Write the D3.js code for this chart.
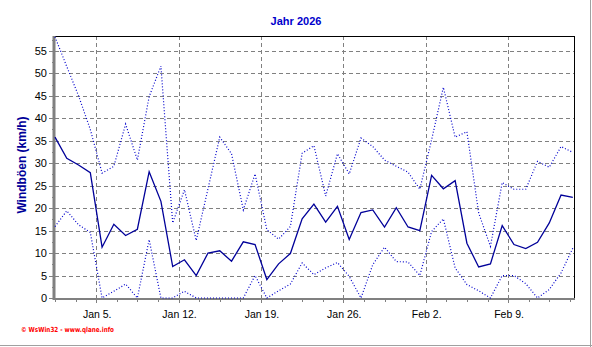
<!DOCTYPE html>
<html><head><meta charset="utf-8">
<script src="https://cdn.jsdelivr.net/npm/d3@7"></script>
<style>html,body{margin:0;padding:0;background:#fff;}svg{display:block;}</style>
</head><body>
<script>
const title = "Jahr 2026";
const yLabel = "Windböen (km/h)";
const footer = "© WsWin32 - www.qlane.info";
const startDay = "2026-01-01T12:00:00";
// daily values (km/h), Jan 1 .. Feb 14
const maxGust = [58.1,51.5,45.0,37.5,27.8,29.3,38.7,30.7,44.8,51.6,16.7,24.1,12.8,24.3,35.8,32.1,
  19.6,27.6,15.2,13.1,15.9,32.2,33.9,22.7,32.1,27.6,35.6,33.7,30.7,29.3,28.0,
  24.2,35.2,46.9,35.8,37.0,18.9,11.5,25.7,24.2,24.2,30.4,29.1,33.7,32.4];
const meanGust = [35.8,31.1,29.6,27.9,11.3,16.4,13.9,15.3,28.1,21.5,7.0,8.5,5.0,10.0,10.5,8.2,
  12.5,11.9,4.1,7.6,9.9,17.6,20.9,16.9,20.4,13.0,19.0,19.6,15.8,20.1,15.8,
  15.0,27.3,24.3,26.1,12.2,6.9,7.6,16.1,11.9,11.0,12.4,16.7,22.9,22.4];
const minGust = [15.9,19.4,16.3,14.6,0,1.5,3.1,0,13.0,0,0,1.5,0,0,0,0,
  0,5.0,0,1.6,3.1,7.8,5.2,6.7,7.9,4.8,0,7.4,11.3,8.1,8.0,
  5.0,14.8,17.6,6.7,3.0,1.6,0,5.0,5.0,3.2,0,1.9,5.6,11.1];
const yTicks = [0,5,10,15,20,25,30,35,40,45,50,55];

const W = 592, H = 347;
const L = 55, R = 574, T = 36, B = 298;
const svg = d3.select("body").append("svg").attr("width", W).attr("height", H);
svg.append("rect").attr("width", W).attr("height", H).attr("fill", "#fff");

const day0 = new Date(startDay);
const dayMs = 86400000;
const dates = maxGust.map((_, i) => new Date(day0.getTime() + i * dayMs));
const x = d3.scaleTime().domain([day0, new Date(day0.getTime() + 44.1 * dayMs)]).range([L, R]);
const y = d3.scaleLinear().domain([0, 58.3]).range([B, T]);

const grid = "#808080";
// horizontal grid
svg.append("g").selectAll("line").data(yTicks.filter(v => v > 0)).join("line")
  .attr("x1", L).attr("x2", R).attr("y1", d => Math.round(y(d)) + 0.5).attr("y2", d => Math.round(y(d)) + 0.5)
  .attr("stroke", grid).attr("stroke-dasharray", "4,3");
// vertical grid at Mondays
const mondays = d3.timeMonday.range(day0, x.domain()[1]);
svg.append("g").selectAll("line").data(mondays).join("line")
  .attr("x1", d => Math.round(x(d)) + 0.5).attr("x2", d => Math.round(x(d)) + 0.5)
  .attr("y1", T).attr("y2", B + 5)
  .attr("stroke", grid).attr("stroke-dasharray", "4,3");

// minor x ticks every 1.75 days
const minor = d3.range(0, 44.1, 1.75).map(k => new Date(day0.getTime() + k * dayMs));
svg.append("g").selectAll("line").data(minor).join("line")
  .attr("x1", d => Math.round(x(d)) + 0.5).attr("x2", d => Math.round(x(d)) + 0.5)
  .attr("y1", B).attr("y2", B + 4).attr("stroke", grid);
// y ticks
svg.append("g").selectAll("line").data(yTicks).join("line")
  .attr("x1", L - 6).attr("x2", L).attr("y1", d => Math.round(y(d)) + 0.5).attr("y2", d => Math.round(y(d)) + 0.5)
  .attr("stroke", grid);
svg.append("g").selectAll("line").data(d3.range(2.5, 58, 5)).join("line")
  .attr("x1", L - 3).attr("x2", L).attr("y1", d => Math.round(y(d)) + 0.5).attr("y2", d => Math.round(y(d)) + 0.5)
  .attr("stroke", grid);

// frame top/right black
svg.append("line").attr("x1", L).attr("x2", R + 0.5).attr("y1", T + 0.5).attr("y2", T + 0.5).attr("stroke", "#000");
svg.append("line").attr("x1", R + 0.5).attr("x2", R + 0.5).attr("y1", T).attr("y2", B).attr("stroke", "#000");
// axes gray thick
svg.append("line").attr("x1", L - 1).attr("x2", L - 1).attr("y1", T).attr("y2", B + 2).attr("stroke", grid).attr("stroke-width", 3);
svg.append("line").attr("x1", L - 2).attr("x2", R + 1).attr("y1", B + 1).attr("y2", B + 1).attr("stroke", grid).attr("stroke-width", 2);

// lines
const line = vals => d3.line().x((d, i) => x(dates[i])).y(d => y(d))(vals);
svg.append("path").attr("d", line(maxGust)).attr("fill", "none").attr("stroke", "#0000cc").attr("stroke-width", 1.2).attr("stroke-dasharray", "1,2");
svg.append("path").attr("d", line(minGust)).attr("fill", "none").attr("stroke", "#0000cc").attr("stroke-width", 1.2).attr("stroke-dasharray", "1,2");
svg.append("path").attr("d", line(meanGust)).attr("fill", "none").attr("stroke", "#000099").attr("stroke-width", 1.3);

// y tick labels
svg.append("g").selectAll("text").data(yTicks).join("text")
  .attr("x", L - 8).attr("y", d => y(d) + 4).attr("text-anchor", "end")
  .attr("font-family", "Liberation Sans, Arial, sans-serif").attr("font-size", 11).attr("fill", "#000")
  .text(d => d);
// x labels
const fmt = d3.timeFormat("%b %-d.");
svg.append("g").selectAll("text").data(mondays).join("text")
  .attr("x", d => x(d) + 1).attr("y", 318).attr("text-anchor", "middle")
  .attr("font-family", "Liberation Sans, Arial, sans-serif").attr("font-size", 10.5).attr("fill", "#000")
  .text(d => fmt(d));

// title
svg.append("text").attr("x", 296).attr("y", 25).attr("text-anchor", "middle")
  .attr("font-family", "Liberation Sans, Arial, sans-serif").attr("font-size", 11).attr("font-weight", "bold")
  .attr("fill", "#0000cc").text(title);
// y label
svg.append("text").attr("transform", "translate(26,165) rotate(-90)").attr("text-anchor", "middle")
  .attr("font-family", "Liberation Sans, Arial, sans-serif").attr("font-size", 12).attr("font-weight", "bold")
  .attr("fill", "#000099").text(yLabel);
// footer
svg.append("text").attr("x", 21).attr("y", 332)
  .attr("font-family", "DejaVu Sans, sans-serif").attr("font-size", 7).attr("font-weight", "bold")
  .attr("fill", "#ff0000").attr("textLength", 93).attr("lengthAdjust", "spacingAndGlyphs").text(footer);

// outer frame lines
svg.append("line").attr("x1", 0).attr("x2", W).attr("y1", 345.5).attr("y2", 345.5).attr("stroke", "#a0a0a0");
svg.append("line").attr("x1", 590.5).attr("x2", 590.5).attr("y1", 0).attr("y2", H).attr("stroke", "#a0a0a0");
</script>
</body></html>
